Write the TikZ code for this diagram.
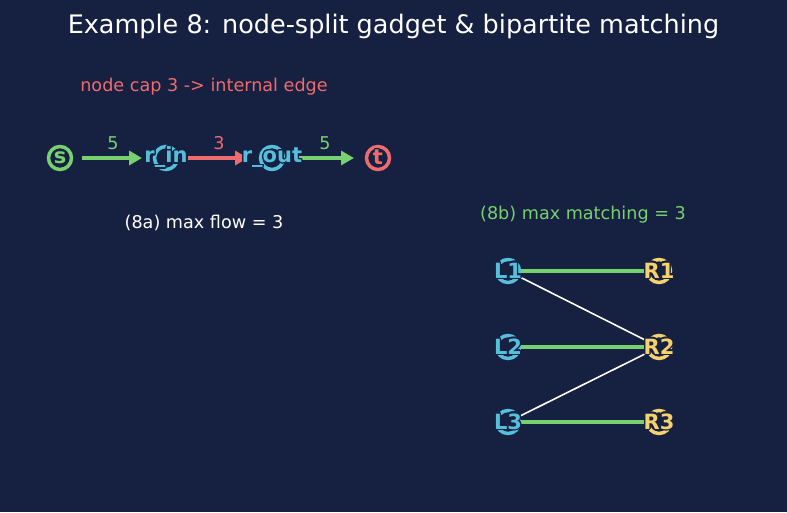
\documentclass[tikz,border=0pt]{standalone}
\usepackage{fontspec}
\setmainfont{DejaVu Sans}
\usepackage[copies]{contour}
\usetikzlibrary{arrows.meta}
\pgfdeclarelayer{back}
\pgfdeclarelayer{edges}
\pgfsetlayers{back,edges,main}
\definecolor{bgc}{HTML}{162040}
\definecolor{cgreen}{HTML}{77D16F}
\definecolor{cred}{HTML}{EE6B6E}
\definecolor{cblue}{HTML}{56BFDC}
\definecolor{cyel}{HTML}{F5D26E}
\contourlength{1.2pt}
\newcommand{\nlab}[1]{\makebox[0pt]{\contour{bgc}{#1}}}
\tikzset{
  gnode/.style={circle, draw=#1, line width=3.5pt, fill=bgc, minimum size=23pt, inner sep=0pt, text=#1, font=\bfseries\fontsize{21}{21}\selectfont},
  txt/.style={font=\fontsize{17.6}{20}\selectfont, inner sep=0pt},
  flowarrow/.style={draw=#1, line width=3.8pt, -{Triangle[length=13pt,width=14pt]}, shorten <=22pt, shorten >=24pt},
  elab/.style={txt, text=#1},
  matchedge/.style={draw=cgreen, line width=4.5pt},
  plainedge/.style={draw=white, line width=1.6pt}
}
\begin{document}
\begin{tikzpicture}[x=1pt,y=-1pt]
\begin{pgfonlayer}{back}
\fill[bgc] (0,0) rectangle (787,512);
\end{pgfonlayer}
\useasboundingbox (0,0) rectangle (787,512);
\node[txt, text=white, font=\fontsize{25.5}{28}\selectfont] (title) at (393.5,26) {Example 8: node-split gadget \& bipartite matching};
\node[txt, text=cred] (cap) at (204,87) {node cap 3 -> internal edge};
% flow gadget
\node[gnode=cgreen] (s) at (60,158) {\nlab{s}};
\node[gnode=cblue] (rin) at (166,158) {\nlab{r\_in}};
\node[gnode=cblue] (rout) at (272,158) {\nlab{r\_out}};
\node[gnode=cred] (t) at (378,158) {\nlab{t}};
\begin{pgfonlayer}{edges}
\draw[flowarrow=cgreen] (s.center) -- (rin.center);
\draw[flowarrow=cred] (rin.center) -- (rout.center);
\draw[flowarrow=cgreen] (rout.center) -- (t.center);
\end{pgfonlayer}
\node[elab=cgreen] (l1) at (113,143) {5};
\node[elab=cred] (l2) at (219,143) {3};
\node[elab=cgreen] (l3) at (325,143) {5};
\node[txt, text=white] (capa) at (204,223) {(8a) max flow = 3};
% matching
\node[txt, text=cgreen] (capb) at (583,215) {(8b) max matching = 3};
\node[gnode=cblue] (L1) at (508,271) {\nlab{L1}};
\node[gnode=cblue] (L2) at (508,347) {\nlab{L2}};
\node[gnode=cblue] (L3) at (508,422) {\nlab{L3}};
\node[gnode=cyel] (R1) at (659,271) {\nlab{R1}};
\node[gnode=cyel] (R2) at (659,347) {\nlab{R2}};
\node[gnode=cyel] (R3) at (659,422) {\nlab{R3}};
\begin{pgfonlayer}{edges}
\draw[plainedge] (L1.center) -- (R2.center);
\draw[plainedge] (L3.center) -- (R2.center);
\draw[matchedge] (L1.center) -- (R1.center);
\draw[matchedge] (L2.center) -- (R2.center);
\draw[matchedge] (L3.center) -- (R3.center);
\end{pgfonlayer}
\end{tikzpicture}
\end{document}
